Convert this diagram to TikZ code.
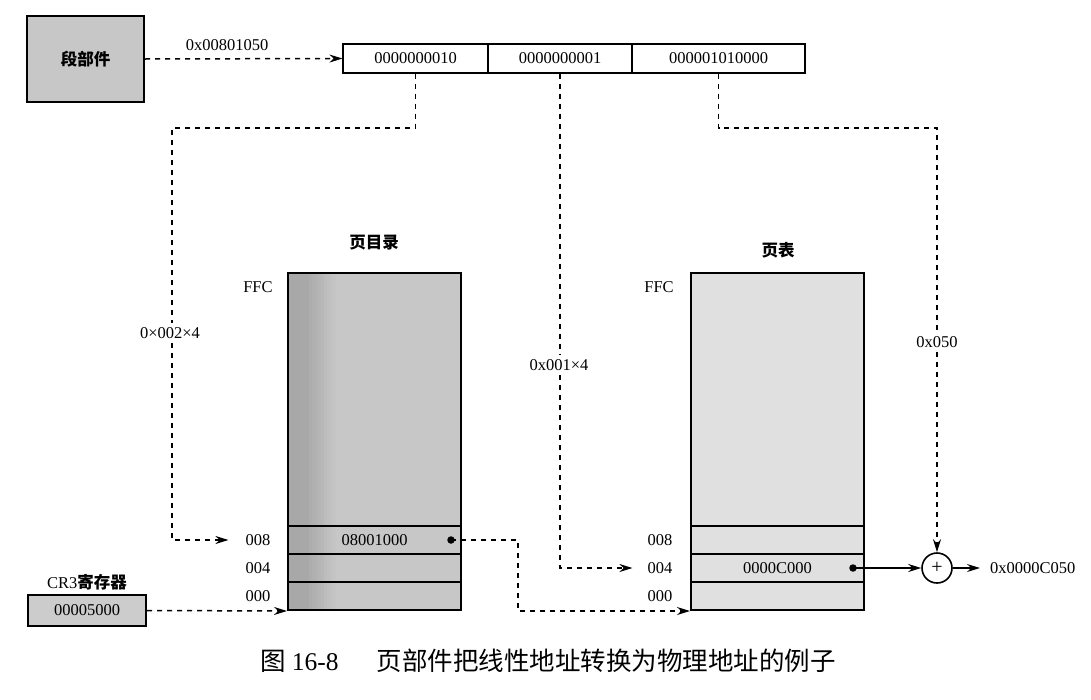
\documentclass[tikz,border=0pt]{standalone}
\usepackage{fontspec}
\setmainfont{Liberation Serif}
\newfontfamily\cjk{Noto Sans CJK SC}
\usetikzlibrary{arrows.meta}

\begin{document}
\begin{tikzpicture}[x=1pt,y=-1pt,
  every node/.style={font=\fontsize{16.5}{18}\selectfont, inner sep=0pt},
  greybox/.style={draw, line width=2.2pt, fill=black!22},
  field/.style={draw, line width=1.1pt, minimum height=29pt},
  tablebox/.style={draw, line width=2pt, minimum width=173pt, minimum height=337pt},
  rowbox/.style={draw, line width=1.4pt, minimum width=173pt, minimum height=28pt},
  dashlink/.style={line width=1.5pt, dash pattern=on 5pt off 5pt},
  arrowed/.style={-{Stealth[length=13pt,width=8pt]}},
  lbl/.style={inner sep=4pt},
  dotmark/.style={circle, fill, minimum size=7.5pt},
  title/.style={font=\cjk\bfseries\fontsize{16.5}{18}\selectfont}
]
\useasboundingbox (0,0) rectangle (1091,699);

% segmentation unit and the linear address
\node[greybox, minimum width=117pt, minimum height=86pt, title] (seg) at (85.5,59) {段部件};
\node[field, minimum width=145pt] (f1) at (415.5,58.5) {0000000010};
\node[field, minimum width=144pt] (f2) at (560,58.5) {0000000001};
\node[field, minimum width=173pt] (f3) at (718.5,58.5) {000001010000};
\node (lin) at (227,45) {0x00801050};
\draw[dashlink, arrowed] (seg.east) -- (f1.west);

% page directory, darker towards its left edge
\node[title] (dirt) at (374,243) {页目录};
\node[tablebox, fill=black!22,
  path picture={\foreach \i in {0,...,16}{
      \pgfmathtruncatemacro\c{34-max(0,\i-6)*1.2}
      \fill[black!\c] ([xshift=\i*3pt]path picture bounding box.north west)
        rectangle ([xshift=\i*3pt+3.3pt]path picture bounding box.south west);}}]
  (dir) at (374.5,441.5) {};
\node[rowbox] (d8) at (374.5,540) {08001000};
\node[rowbox] (d4) at (374.5,568) {};
\node[rowbox] (d0) at (374.5,596) {};
\node (dffc) at (258,287) {FFC};
\node (l8a) at (258,540) {008};
\node (l4a) at (258,568) {004};
\node (l0a) at (258,596) {000};
\node[dotmark] (d8dot) at (451,540) {};

% page table
\node[title] (ptt) at (778,250) {页表};
\node[tablebox, fill=black!12] (pt) at (777.5,441.5) {};
\node[rowbox] (p8) at (777.5,540) {};
\node[rowbox] (p4) at (777.5,568) {0000C000};
\node[rowbox] (p0) at (777.5,596) {};
\node (pffc) at (659,287) {FFC};
\node (l8b) at (660,540) {008};
\node (l4b) at (660,568) {004};
\node (l0b) at (660,596) {000};
\node[dotmark] (p4dot) at (853,568) {};

% CR3 register
\node (cr3l) at (87,582) {CR3{\cjk\bfseries 寄存器}};
\node[greybox, fill=black!20, minimum width=118pt, minimum height=31pt] (cr3) at (87,610.5) {00005000};

% adder and physical address
\node[circle, draw, line width=1.6pt, minimum size=30pt, font=\fontsize{20}{20}\selectfont] (sum) at (937,568) {+};
\node[anchor=west] (out) at (990,568) {0x0000C050};

% offsets written in gaps of the links
\node[lbl] (o1) at (170,333) {0×002×4};
\node[lbl] (o2) at (559,365) {0x001×4};
\node[lbl] (o3) at (937,342) {0x050};

% turning points of the dashed links
\coordinate (c1) at (172,128);
\coordinate (c4) at (518,540);
\coordinate (c6) at (937,128);

\draw[dashlink] (f1.south) |- (c1) -- (c1 |- o1.north);
\draw[dashlink, arrowed] (c1 |- o1.south) -- (c1 |- l8a) -- ([xshift=-17pt]l8a.west);
\draw[dashlink] (f2.south) -- (f2.south |- o2.north);
\draw[dashlink, arrowed] (f2.south |- o2.south) -- (f2.south |- l4b) -- ([xshift=-15pt]l4b.west);
\draw[dashlink] (f3.south) |- (c6) -- (o3.north);
\draw[dashlink, arrowed] (o3.south) -- (sum.north);
\draw[dashlink, arrowed] (cr3.east) -- (dir.south west);
\draw[dashlink, arrowed] (d8dot.center) -- (c4) |- (pt.south west);
\draw[line width=1.4pt, arrowed] (p4dot.center) -- (sum.west);
\draw[line width=1.4pt, arrowed, shorten >=10pt] (sum.east) -- (out.west);

% caption
\node (cap) at (548,661) {\fontsize{25.5}{28}\selectfont{\cjk 图} 16-8\hspace{1.5em}{\cjk 页部件把线性地址转换为物理地址的例子}};
\end{tikzpicture}
\end{document}
